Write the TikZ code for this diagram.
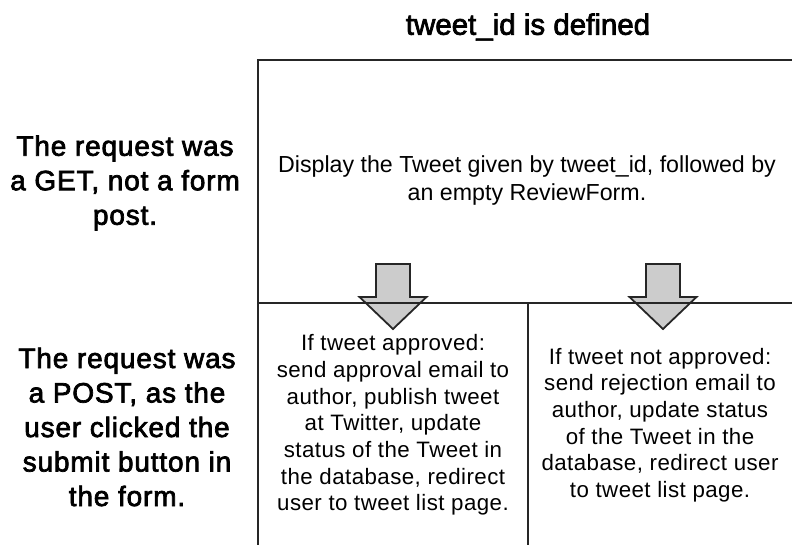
\documentclass[tikz,border=0pt]{standalone}
\usepackage{fontspec}
\setmainfont{Liberation Sans}
\newfontfamily\medfont[FakeBold=2.5,LetterSpace=3]{Liberation Sans}
\newfontfamily\titlefont[FakeBold=2.5]{Liberation Sans}
\newfontfamily\spacedfont[LetterSpace=2]{Liberation Sans}
\begin{document}
\begin{tikzpicture}[x=1pt,y=-1pt,
  gridline/.style={draw=black!85, line width=2.2pt},
  flowarrow/.style={draw=black!85, line width=1.8pt, fill=black!20, line join=miter},
  headtext/.style={font=\titlefont\fontsize{29.5}{33.5}\selectfont, align=center, inner sep=0pt},
  sidetext/.style={font=\medfont\fontsize{28}{34.5}\selectfont, align=center, inner sep=0pt},
  celltext/.style={font=\fontsize{23.2}{28}\selectfont, align=center, inner sep=0pt},
  smalltext/.style={font=\spacedfont\fontsize{22.3}{26.7}\selectfont, align=center, inner sep=0pt}]
\useasboundingbox (0,0) rectangle (792,545);
\fill[white] (0,0) rectangle (792,545);
% grid coordinates
\coordinate (tl) at (258,60);
\coordinate (tr) at (792,60);
\coordinate (ml) at (258,303);
\coordinate (mr) at (792,303);
\coordinate (bl) at (258,545);
\coordinate (mm) at (528,303);
\coordinate (bm) at (528,545);
% arrows
\coordinate (a1) at (393,264);
\coordinate (a2) at (663,264);
\foreach \c in {a1,a2}{
  \draw[flowarrow] ([xshift=-17pt]\c) -- ([xshift=17pt]\c) -- ([xshift=17pt,yshift=-33pt]\c)
    -- ([xshift=33.5pt,yshift=-33pt]\c) -- ([yshift=-65pt]\c) -- ([xshift=-33.5pt,yshift=-33pt]\c)
    -- ([xshift=-17pt,yshift=-33pt]\c) -- cycle;
}
% lines
\draw[gridline] (tr) -- (tl) -- (bl);
\draw[gridline] (ml) -- (mr);
\draw[gridline] (mm) -- (bm);
% texts
\node[headtext] (title) at (528,27) {tweet\_id is defined};
\node[sidetext] (get) at (125,183) {The request was\\a GET, not a form\\post.};
\node[sidetext] (post) at (127,427) {The request was\\a POST, as the\\user clicked the\\submit button in\\the form.};
\node[celltext] (display) at (527,181) {Display the Tweet given by tweet\_id, followed by\\an empty ReviewForm.};
\node[smalltext] (approved) at (393,425) {If tweet approved:\\send approval email to\\author, publish tweet\\at Twitter, update\\status of the Tweet in\\the database, redirect\\user to tweet list page.};
\node[smalltext] (rejected) at (660,425) {If tweet not approved:\\send rejection email to\\author, update status\\of the Tweet in the\\database, redirect user\\to tweet list page.};
\end{tikzpicture}
\end{document}
